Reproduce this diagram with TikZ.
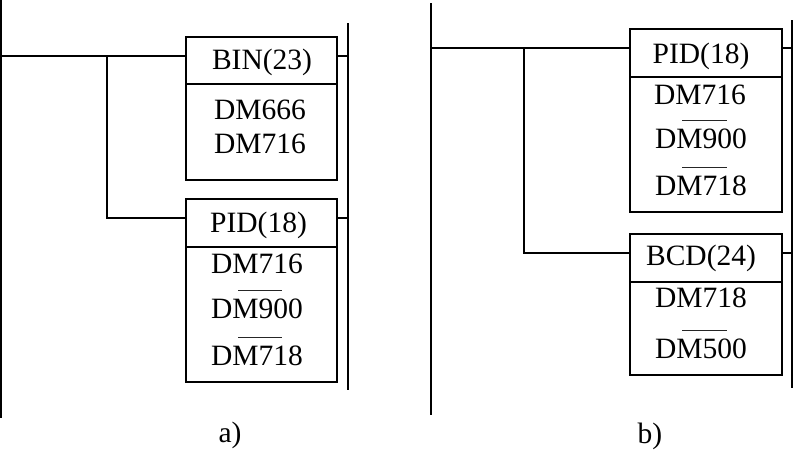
\documentclass[tikz,border=0pt]{standalone}
\usepackage{fontspec}
\setmainfont{Liberation Serif}
\newcommand\obar{\rlap{\hspace{0.92em}\color{black!85}\rule[0.93em]{1.5em}{0.9pt}}}
\begin{document}
\begin{tikzpicture}[x=1pt,y=-1pt,
  wire/.style={line width=1.3pt},
  rail/.style={line width=1.6pt},
  box/.style={draw,line width=1.3pt,rectangle,inner sep=0pt,outer sep=0pt,anchor=north west},
  txt/.style={anchor=base,inner sep=0pt,font=\fontsize{29.5}{34}\selectfont}]
\useasboundingbox (0,0) rectangle (793,451);
% ---------- panel a ----------
\coordinate (aL1) at (1,0);
\coordinate (aL2) at (1,418);
\coordinate (aR1) at (348,23);
\coordinate (aR2) at (348,390);
\draw[rail] (aL1) -- (aL2);
\draw[rail] (aR1) -- (aR2);
\node[box,minimum width=151pt,minimum height=143pt] (binA) at (186,37) {};
\node[box,minimum width=151pt,minimum height=183pt] (pidA) at (186,199) {};
\coordinate (aJ) at (107,56);
\coordinate (aB) at (107,218);
\draw[wire] (aL1 |- aJ) -- (aJ) -- (binA.west |- aJ);
\draw[wire] (aJ) -- (aB) -- (pidA.west |- aB);
\draw[wire] (binA.east |- aJ) -- (aR1 |- aJ);
\draw[wire] (pidA.east |- aB) -- (aR1 |- aB);
\draw[wire] (binA.west |- 0,84) -- (binA.east |- 0,84);
\draw[wire] (pidA.west |- 0,247) -- (pidA.east |- 0,247);
\node[txt] (t1) at (262,69) {BIN(23)};
\node[txt] (t2) at (260,119) {DM666};
\node[txt] (t3) at (260,153) {DM716};
\node[txt] (t4) at (258.5,232) {PID(18)};
\node[txt] (t5) at (257,273) {DM716};
\node[txt] (t6) at (257,318) {\obar DM900};
\node[txt] (t7) at (257,365) {\obar DM718};
\node[txt] (la) at (230,442) {a)};
% ---------- panel b ----------
\coordinate (bL1) at (431,3);
\coordinate (bL2) at (431,415);
\coordinate (bR1) at (792,20);
\coordinate (bR2) at (792,388);
\draw[rail] (bL1) -- (bL2);
\draw[rail] (bR1) -- (bR2);
\node[box,minimum width=152pt,minimum height=183pt] (pidB) at (630,29) {};
\node[box,minimum width=152pt,minimum height=141pt] (bcdB) at (630,234) {};
\coordinate (bJ) at (524,48);
\coordinate (bB) at (524,253);
\draw[wire] (bL1 |- bJ) -- (bJ) -- (pidB.west |- bJ);
\draw[wire] (bJ) -- (bB) -- (bcdB.west |- bB);
\draw[wire] (pidB.east |- bJ) -- (bR1 |- bJ);
\draw[wire] (bcdB.east |- bB) -- (bR1 |- bB);
\draw[wire] (pidB.west |- 0,77) -- (pidB.east |- 0,77);
\draw[wire] (bcdB.west |- 0,282) -- (bcdB.east |- 0,282);
\node[txt] (u1) at (701,63) {PID(18)};
\node[txt] (u2) at (700,104) {DM716};
\node[txt] (u3) at (701,148) {\obar DM900};
\node[txt] (u4) at (701,195) {\obar DM718};
\node[txt] (u5) at (701,265) {BCD(24)};
\node[txt] (u6) at (701,307) {DM718};
\node[txt] (u7) at (701,358) {\obar DM500};
\node[txt] (lb) at (650,443) {b)};
\end{tikzpicture}
\end{document}
